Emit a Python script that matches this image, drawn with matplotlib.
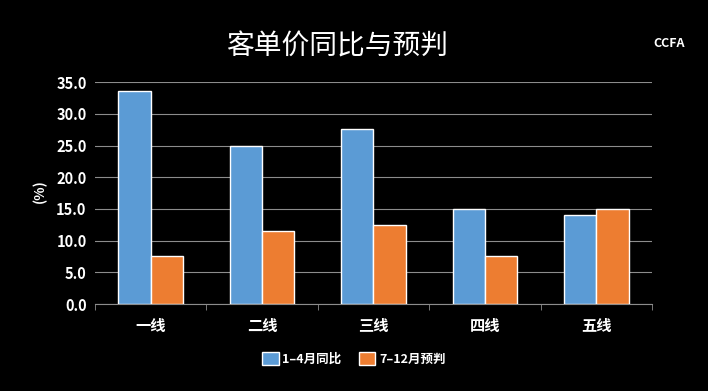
import matplotlib.pyplot as plt
import numpy as np

plt.rcParams['font.family'] = ['Noto Sans CJK SC', 'DejaVu Sans']

categories = ['一线', '二线', '三线', '四线', '五线']
yoy_jan_apr = [33.6, 25.0, 27.6, 15.0, 14.0]
fcst_jul_dec = [7.5, 11.5, 12.5, 7.5, 15.0]
series_names = ['1–4月同比', '7–12月预判']

fig = plt.figure(figsize=(7.08, 3.91), dpi=100, facecolor='black')
ax = fig.add_axes([0.134, 0.2225, 0.787, 0.5675], facecolor='black')

x = np.arange(len(categories))
w = 0.29
ax.bar(x - w / 2, yoy_jan_apr, w, color='#5B9BD5', edgecolor='white', linewidth=1, label=series_names[0], zorder=3)
ax.bar(x + w / 2, fcst_jul_dec, w, color='#ED7D31', edgecolor='white', linewidth=1, label=series_names[1], zorder=3)

ax.set_xlim(-0.5, len(categories) - 0.5)
ax.set_ylim(0, 35)
ax.set_yticks(np.arange(0, 35.1, 5))
ax.set_yticklabels([f'{v:.1f}' for v in np.arange(0, 35.1, 5)])
ax.yaxis.grid(True, color='#8c8c8c', linewidth=0.8, zorder=0)

ax.set_xticks(x)
ax.set_xticklabels(categories)
ax.set_xticks(np.arange(-0.5, len(categories)), minor=True)
ax.tick_params(axis='x', which='major', length=0, pad=10, colors='white', labelsize=11)
ax.tick_params(axis='x', which='minor', length=4, color='#8c8c8c')
ax.tick_params(axis='y', length=0, colors='white', labelsize=10.5, pad=6)
for lab in ax.get_xticklabels() + ax.get_yticklabels():
    lab.set_fontweight('bold')

for s in ['top', 'right', 'left']:
    ax.spines[s].set_visible(False)
ax.spines['bottom'].set_color('#8c8c8c')

ax.set_ylabel('(%)', color='white', fontsize=10, fontweight='bold')
ax.yaxis.set_label_coords(-0.085, 0.51)

fig.text(0.476, 0.88, '客单价同比与预判', color='white', fontsize=20, ha='center', va='center')
fig.text(0.945, 0.89, 'CCFA', color='white', fontsize=9, ha='center', va='center', fontweight='bold')

leg = fig.legend(loc='center', bbox_to_anchor=(0.5, 0.083), ncol=2, frameon=False,
                 fontsize=9, handlelength=1.3, handleheight=1.3, columnspacing=1.4, handletextpad=0.3)
for t in leg.get_texts():
    t.set_color('white')
    t.set_fontweight('bold')

fig.savefig('out.png', dpi=100, facecolor='black')
